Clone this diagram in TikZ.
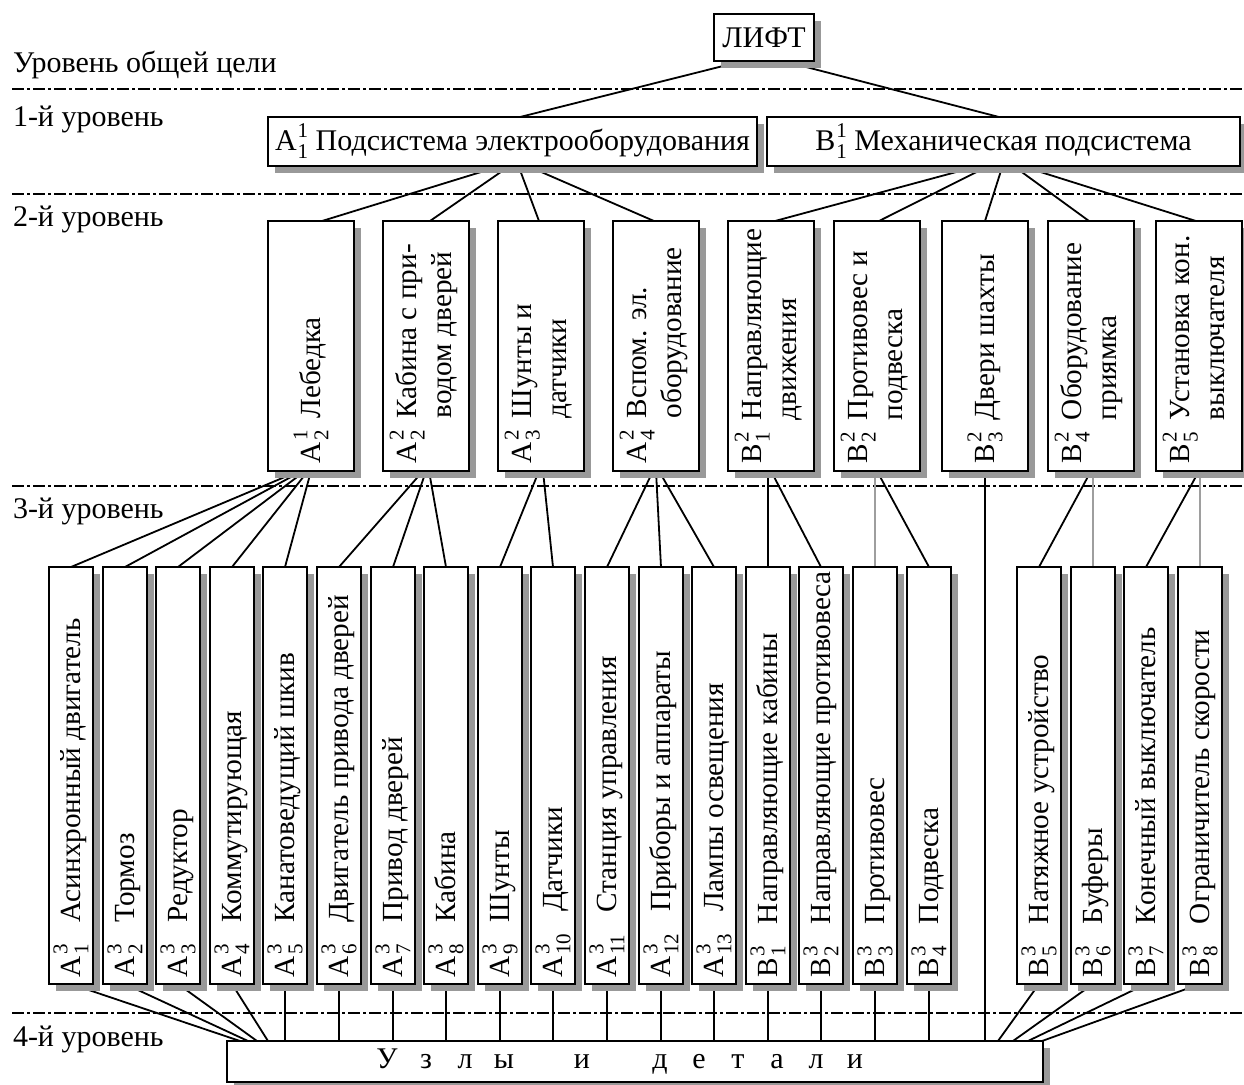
\documentclass[tikz,border=0pt]{standalone}
\usepackage{fontspec}
\setmainfont{Liberation Serif}
\usetikzlibrary{backgrounds,calc}
\newcommand\idx[3]{#1\kern0.5pt{\fontsize{10.5}{10.5}\selectfont\rlap{\raisebox{6.5pt}{#2}}\raisebox{-4pt}{#3}}}
\newcommand\twoline[4]{\begin{tabular}{@{}l@{\hspace{6pt}}l@{}}\idx{#1}{2}{#2} & #3\\ & #4\end{tabular}}
\begin{document}
\begin{tikzpicture}[x=0.5pt,y=-0.5pt,
  every node/.style={inner sep=0pt, outer sep=0pt, font=\fontsize{15}{18}\selectfont},
  box/.style={draw, line width=1pt, fill=white},
  lvtwo/.style={box, minimum width=43pt, minimum height=125pt},
  lvthree/.style={box, minimum width=22pt, minimum height=208.5pt},
  vtext/.style={rotate=90, anchor=west, font=\fontsize{14.6}{17.5}\selectfont},
  lbl/.style={anchor=base west},
  conn/.style={line width=0.9pt},
  gconn/.style={line width=0.9pt, draw=black!38},
  shadowline/.style={draw=black!40, line width=2.8pt, line cap=butt, line join=miter},
  sepline/.style={line width=0.6pt, dash pattern=on 6pt off 1.5pt on 1.5pt off 1.5pt}
]
\useasboundingbox (0,0) rectangle (1244,1084);

% level labels
\node[lbl] (lv0) at (13,72) {Уровень общей цели};
\node[lbl] (lv1) at (13,126) {1-й уровень};
\node[lbl] (lv2) at (13,226) {2-й уровень};
\node[lbl] (lv3) at (13,518) {3-й уровень};
\node[lbl] (lv4) at (13,1046) {4-й уровень};

% top levels
\node[box, minimum width=50pt, minimum height=23.5pt] (lift) at (764,37.5) {ЛИФТ};
\node[box, minimum width=244.5pt, minimum height=24.5pt] (a1) at (512.5,141.5) {\idx{A}{1}{1} Подсистема электрооборудования};
\node[box, minimum width=236.5pt, minimum height=24.5pt] (b1) at (1003.5,141.5) {\idx{B}{1}{1} Механическая подсистема};

% level 2
\node[lvtwo] (l2a1) at (311,346) {};
\node[lvtwo] (l2a2) at (426,346) {};
\node[lvtwo] (l2a3) at (541,346) {};
\node[lvtwo] (l2a4) at (656,346) {};
\node[lvtwo] (l2b1) at (771,346) {};
\node[lvtwo] (l2b2) at (877,346) {};
\node[lvtwo] (l2b3) at (985,346) {};
\node[lvtwo] (l2b4) at (1091,346) {};
\node[lvtwo] (l2b5) at (1199,346) {};

\node[vtext] (t2a1) at ($(l2a1.south)+(0,-8)$) {\idx{A}{1}{2}\hspace{6pt}Лебедка};
\node[vtext] (t2a2) at ($(l2a2.south)+(0,-8)$) {\twoline{A}{2}{Кабина с при-}{водом дверей}};
\node[vtext] (t2a3) at ($(l2a3.south)+(0,-8)$) {\twoline{A}{3}{Шунты и}{датчики}};
\node[vtext] (t2a4) at ($(l2a4.south)+(0,-8)$) {\twoline{A}{4}{Вспом. эл.}{оборудование}};
\node[vtext] (t2b1) at ($(l2b1.south)+(0,-8)$) {\twoline{B}{1}{Направляющие}{движения}};
\node[vtext] (t2b2) at ($(l2b2.south)+(0,-8)$) {\twoline{B}{2}{Противовес и}{подвеска}};
\node[vtext] (t2b3) at ($(l2b3.south)+(0,-8)$) {\idx{B}{2}{3}\hspace{6pt}Двери шахты};
\node[vtext] (t2b4) at ($(l2b4.south)+(0,-8)$) {\twoline{B}{4}{Оборудование}{приямка}};
\node[vtext] (t2b5) at ($(l2b5.south)+(0,-8)$) {\twoline{B}{5}{Установка кон.}{выключателя}};

% level 3
\foreach \nm [count=\i from 0] in {a1,a2,a3,a4,a5,a6,a7,a8,a9,a10,a11,a12,a13,b1,b2,b3,b4}
  {\pgfmathsetmacro\cx{round(71+53.6*\i)}
   \node[lvthree] (l3\nm) at (\cx,775.5) {};}
\foreach \nm [count=\i from 0] in {b5,b6,b7,b8}
  {\pgfmathsetmacro\cx{round(1039+53.6*\i)}
   \node[lvthree] (l3\nm) at (\cx,775.5) {};}

\foreach \nm/\L/\k/\txt in {a1/A/1/Асинхронный двигатель, a2/A/2/Тормоз, a3/A/3/Редуктор,
  a4/A/4/Коммутирующая, a5/A/5/Канатоведущий шкив, a6/A/6/Двигатель привода дверей,
  a7/A/7/Привод дверей, a8/A/8/Кабина, a9/A/9/Шунты, a10/A/10/Датчики,
  a11/A/11/Станция управления, a12/A/12/Приборы и аппараты, a13/A/13/Лампы освещения,
  b1/B/1/Направляющие кабины, b2/B/2/Направляющие противовеса, b3/B/3/Противовес,
  b4/B/4/Подвеска, b5/B/5/Натяжное устройство, b6/B/6/Буферы,
  b7/B/7/Конечный выключатель, b8/B/8/Ограничитель скорости}
  \node[vtext] (t3\nm) at ($(l3\nm.south)+(0,-7)$) {\idx{\L}{3}{\k}\hspace{11pt}\txt};

% level 4
\node[box, minimum width=408pt, minimum height=20.5pt] (uzly) at (635,1061.5)
  {\makebox[19.5pt]{У}\makebox[19.5pt]{з}\makebox[19.5pt]{л}\makebox[19.5pt]{ы}\makebox[19.5pt]{}\makebox[19.5pt]{и}\makebox[19.5pt]{}\makebox[19.5pt]{д}\makebox[19.5pt]{е}\makebox[19.5pt]{т}\makebox[19.5pt]{а}\makebox[19.5pt]{л}\makebox[19.5pt]{и}\hspace*{14pt}};

% shadows (right and bottom strips)
\foreach \nm in {lift,a1,b1,l2a1,l2a2,l2a3,l2a4,l2b1,l2b2,l2b3,l2b4,l2b5,l3a1,l3a2,l3a3,l3a4,l3a5,l3a6,l3a7,l3a8,l3a9,l3a10,l3a11,l3a12,l3a13,l3b1,l3b2,l3b3,l3b4,l3b5,l3b6,l3b7,l3b8,uzly}
  {\draw[shadowline] ($(\nm.north east)+(3.8,7)$) -- ($(\nm.south east)+(3.8,3.8)$) -- ($(\nm.south west)+(7,3.8)$);}

\begin{scope}[on background layer]
  % separators
  \draw[sepline] (12,89) -- (1244,89);
  \draw[sepline] (12,194) -- (1244,194);
  \draw[sepline] (12,486) -- (1244,486);
  \draw[sepline] (12,1013) -- (1244,1013);

  % top
  \draw[conn] ($(lift.south)+(-21,0)$) -- ($(a1.north)+(7.5,0)$);
  \draw[conn] ($(lift.south)+(19,0)$) -- ($(b1.north)+(-4.5,0)$);

  % level 1 -> 2
  \draw[conn] ($(a1.south)+(-12,0)$) -- ($(l2a1.north)+(11,0)$);
  \draw[conn] ($(a1.south)+(-3,0)$) -- ($(l2a2.north)+(4,0)$);
  \draw[conn] ($(a1.south)+(6,0)$) -- ($(l2a3.north)+(-2,0)$);
  \draw[conn] ($(a1.south)+(15,0)$) -- ($(l2a4.north)+(-2,0)$);
  \draw[conn] ($(b1.south)+(-25,0)$) -- ($(l2b1.north)+(4,0)$);
  \draw[conn] ($(b1.south)+(-15,0)$) -- ($(l2b2.north)+(2,0)$);
  \draw[conn] ($(b1.south)+(-1,0)$) -- (l2b3.north);
  \draw[conn] ($(b1.south)+(10,0)$) -- ($(l2b4.north)+(-2,0)$);
  \draw[conn] ($(b1.south)+(18,0)$) -- ($(l2b5.north)+(-3,0)$);

  % level 2 -> 3
  \foreach \t/\o in {a1/-12, a2/-9, a3/-6, a4/-3, a5/0}
    {\draw[conn] ($(l2a1.south)+(\o,0)$) -- (l3\t.north);}
  \foreach \t/\o in {a6/-3, a7/0, a8/3}
    {\draw[conn] ($(l2a2.south)+(\o,0)$) -- (l3\t.north);}
  \foreach \t/\o in {a9/-2, a10/2}
    {\draw[conn] ($(l2a3.south)+(\o,0)$) -- (l3\t.north);}
  \foreach \t/\o in {a11/-3, a12/0, a13/3}
    {\draw[conn] ($(l2a4.south)+(\o,0)$) -- (l3\t.north);}
  \draw[conn] (l3b1.north) -- (l3b1.north |- l2b1.south);
  \draw[conn] (l2b1.south) -- (l3b2.north);
  \draw[gconn] (l3b3.north) -- (l3b3.north |- l2b2.south);
  \draw[conn] (l2b2.south) -- (l3b4.north);
  \draw[conn] (l2b3.south) -- (l2b3.south |- uzly.north);
  \draw[conn] (l2b4.south) -- (l3b5.north);
  \draw[gconn] (l3b6.north) -- (l3b6.north |- l2b4.south);
  \draw[conn] (l2b5.south) -- (l3b7.north);
  \draw[gconn] (l3b8.north) -- (l3b8.north |- l2b5.south);

  % level 3 -> 4
  \draw[conn] (l3a1.south) -- ($(uzly.north west)+(13,0)$);
  \draw[conn] (l3a2.south) -- ($(uzly.north west)+(21,0)$);
  \draw[conn] (l3a3.south) -- ($(uzly.north west)+(30,0)$);
  \draw[conn] (l3a4.south) -- ($(uzly.north west)+(41,0)$);
  \foreach \nm in {a5,a6,a7,a8,a9,a10,a11,a12,a13,b1,b2,b3,b4}
    {\draw[conn] (l3\nm.south) -- (l3\nm.south |- uzly.north);}
  \draw[conn] (l3b5.south) -- ($(uzly.north east)+(-45,0)$);
  \draw[conn] (l3b6.south) -- ($(uzly.north east)+(-30,0)$);
  \draw[conn] (l3b7.south) -- ($(uzly.north east)+(-15,0)$);
  \draw[conn] (l3b8.south) -- ($(uzly.north east)+(-1,0)$);
\end{scope}
\end{tikzpicture}
\end{document}
